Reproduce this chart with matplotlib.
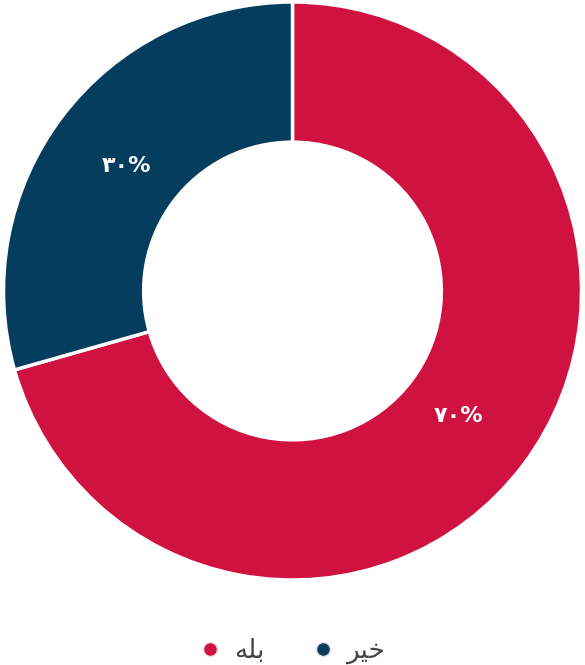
import matplotlib
matplotlib.use('Agg')
import matplotlib.pyplot as plt
from matplotlib.lines import Line2D
import numpy as np

# data (Persian labels, written in presentation forms so they join without a shaper)
labels = ['\uFEEA\uFEE0\uFE91', '\uFEAE\uFBFF\uFEA7']   # "بله", "خیر"
values = [70.6, 29.4]
pct_text = ['\u06F7\u06F0%', '\u06F3\u06F0%']           # ۷۰% , ۳۰%
colors = ['#CF1240', '#053D5F']

plt.rcParams['font.family'] = ['DejaVu Sans']

fig = plt.figure(figsize=(5.85, 6.65), dpi=100)
W, H = 585, 665
cx, cy, r = 292.5, 291, 289
ax = fig.add_axes([(cx - r) / W, (H - cy - r) / H, 2 * r / W, 2 * r / H])

wedges, _ = ax.pie(values, colors=colors, startangle=90, counterclock=False,
                   radius=1.0,
                   wedgeprops=dict(width=0.485, edgecolor='white', linewidth=2.5))

# percentage labels in the middle of the ring
start = 90.0
total = sum(values)
for v, t in zip(values, pct_text):
    span = 360.0 * v / total
    mid = np.deg2rad(start - span / 2)
    ax.text(0.72 * np.cos(mid), 0.72 * np.sin(mid), t, color='white',
            fontsize=16, fontweight='bold', ha='center', va='center')
    start -= span

ax.set_xlim(-1, 1)
ax.set_ylim(-1, 1)
ax.set_aspect('equal')
ax.axis('off')

# legend at the bottom
handles = [Line2D([0], [0], marker='o', linestyle='none', markersize=10,
                  markerfacecolor=c, markeredgecolor='#f3dde2', markeredgewidth=1)
           for c in colors]
fig.legend(handles, labels, loc='center', bbox_to_anchor=(0.5, 1 - 651 / H),
           ncol=2, frameon=False, fontsize=19, labelcolor='#444444',
           handlelength=0.8, handletextpad=0.5, columnspacing=1.8)

fig.savefig('out.png', dpi=100)
